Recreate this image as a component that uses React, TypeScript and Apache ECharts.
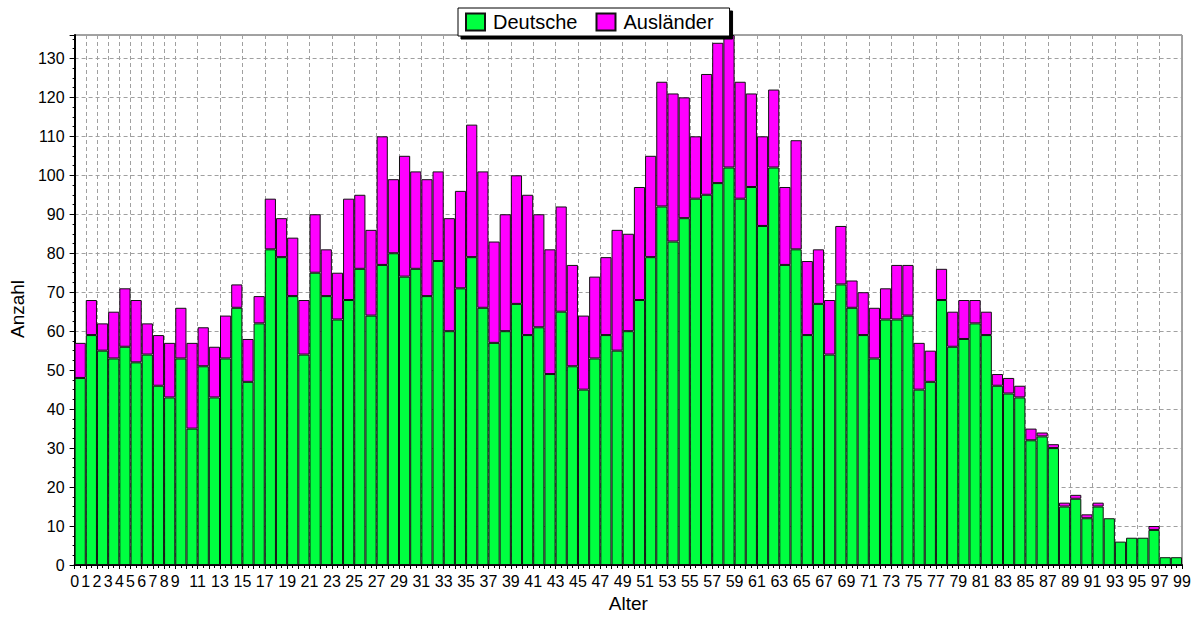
import React, { useEffect, useRef } from "react";
import * as echarts from "echarts";

// Altersjahre (Balken liegen zwischen k und k+1)
const ages = [
  "0","1","2","3","4","5","6","7","8","9","10","11","12","13","14","15","16","17","18","19",
  "20","21","22","23","24","25","26","27","28","29","30","31","32","33","34","35","36","37","38","39",
  "40","41","42","43","44","45","46","47","48","49","50","51","52","53","54","55","56","57","58","59",
  "60","61","62","63","64","65","66","67","68","69","70","71","72","73","74","75","76","77","78","79",
  "80","81","82","83","84","85","86","87","88","89","90","91","92","93","94","95","96","97","98",
];

// Tick labels on the x axis (boundaries 0..99)
const xTickLabels = [
  "0","1","2","3","4","5","6","7","8","9","10","11","12","13","14","15","16","17","18","19",
  "20","21","22","23","24","25","26","27","28","29","30","31","32","33","34","35","36","37","38","39",
  "40","41","42","43","44","45","46","47","48","49","50","51","52","53","54","55","56","57","58","59",
  "60","61","62","63","64","65","66","67","68","69","70","71","72","73","74","75","76","77","78","79",
  "80","81","82","83","84","85","86","87","88","89","90","91","92","93","94","95","96","97","98","99",
];

const deutsche = [
  48, 59, 55, 53, 56, 52, 54, 46, 43, 53,
  35, 51, 43, 53, 66, 47, 62, 81, 79, 69,
  54, 75, 69, 63, 68, 76, 64, 77, 80, 74,
  76, 69, 78, 60, 71, 79, 66, 57, 60, 67,
  59, 61, 49, 65, 51, 45, 53, 59, 55, 60,
  68, 79, 92, 83, 89, 94, 95, 98, 102, 94,
  97, 87, 102, 77, 81, 59, 67, 54, 72, 66,
  59, 53, 63, 63, 64, 45, 47, 68, 56, 58,
  62, 59, 46, 44, 43, 32, 33, 30, 15, 17,
  12, 15, 12, 6, 7, 7, 9, 2, 2,
];

const auslaender = [
  9, 9, 7, 12, 15, 16, 8, 13, 14, 13,
  22, 10, 13, 11, 6, 11, 7, 13, 10, 15,
  14, 15, 12, 12, 26, 19, 22, 33, 19, 31,
  25, 30, 23, 29, 25, 34, 35, 26, 30, 33,
  36, 29, 32, 27, 26, 19, 21, 20, 31, 25,
  29, 26, 32, 38, 31, 16, 31, 36, 34, 30,
  24, 23, 20, 20, 28, 19, 14, 14, 15, 7,
  11, 13, 8, 14, 13, 12, 8, 8, 9, 10,
  6, 6, 3, 4, 3, 3, 1, 1, 1, 1,
  1, 1, 0, 0, 0, 0, 1, 0, 0,
];

const FONT = '"Liberation Sans", Arial, Helvetica, sans-serif';

const showX = (i: number) => i <= 9 || i % 2 === 1;

export default function App() {
  const ref = useRef<HTMLDivElement>(null);

  useEffect(() => {
    if (!ref.current) return;
    const chart = echarts.init(ref.current, undefined, { renderer: "svg" });
    const grid = { color: "#a0a0a0", type: [4, 3] as any, width: 1 };
    chart.setOption({
      animation: false,
      backgroundColor: "#fff",
      textStyle: { fontFamily: FONT },
      grid: {
        left: 73,
        right: 19,
        top: 35,
        bottom: 52,
        show: true,
        borderColor: "#444",
        borderWidth: 1,
        backgroundColor: "#fff",
      },
      legend: {
        data: ["Deutsche", "Ausländer"],
        left: 458,
        top: 8,
        orient: "horizontal",
        itemWidth: 19,
        itemHeight: 17,
        itemGap: 18,
        padding: [4, 16, 4, 7],
        backgroundColor: "#fff",
        borderColor: "#000",
        borderWidth: 1,
        shadowColor: "#000",
        shadowBlur: 0,
        shadowOffsetX: 3,
        shadowOffsetY: 3,
        icon: "rect",
        textStyle: { fontSize: 20, color: "#000", fontFamily: FONT, padding: [0, 0, 0, 3] },
      },
      xAxis: [
        {
          type: "category",
          data: xTickLabels,
          boundaryGap: false,
          position: "bottom",
          name: "Alter",
          nameLocation: "middle",
          nameGap: 29,
          nameTextStyle: { fontSize: 19, color: "#000", fontFamily: FONT },
          axisLine: { show: true, lineStyle: { color: "#000", width: 2 } },
          axisTick: { show: true, interval: 0, length: 4, lineStyle: { color: "#000" } },
          axisLabel: {
            interval: (i: number) => showX(i),
            fontSize: 16,
            color: "#000",
            margin: 8,
            hideOverlap: false,
          },
          splitLine: {
            show: true,
            interval: (i: number) => showX(i),
            lineStyle: grid,
          },
        },
        {
          type: "category",
          data: ages,
          boundaryGap: true,
          position: "bottom",
          axisLine: { show: false },
          axisLabel: { show: false },
          axisTick: { show: true, alignWithLabel: true, interval: 0, length: 3, lineStyle: { color: "#000" } },
          splitLine: { show: false },
        },
      ],
      yAxis: {
        type: "value",
        min: 0,
        max: 136,
        interval: 10,
        name: "Anzahl",
        nameLocation: "middle",
        nameGap: 46,
        nameTextStyle: { fontSize: 19, color: "#000", fontFamily: FONT, padding: [0, 18, 0, 0] },
        axisLine: { show: true, lineStyle: { color: "#000", width: 2 } },
        axisTick: { show: true, length: 5, lineStyle: { color: "#000" } },
        minorTick: { show: true, splitNumber: 4, length: 2, lineStyle: { color: "#000" } },
        axisLabel: { fontSize: 16, color: "#000", margin: 10, showMaxLabel: false },
        splitLine: { show: true, lineStyle: grid },
      },
      series: [
        {
          name: "Deutsche",
          type: "bar",
          stack: "total",
          xAxisIndex: 1,
          data: deutsche,
          barCategoryGap: "0%",
          itemStyle: { color: "#00ff40", borderColor: "#111", borderWidth: 1 },
        },
        {
          name: "Ausländer",
          type: "bar",
          stack: "total",
          xAxisIndex: 1,
          data: auslaender.map((v) => (v === 0 ? null : v)),
          barCategoryGap: "0%",
          itemStyle: { color: "#ff00ff", borderColor: "#111", borderWidth: 1 },
        },
      ],
    });
    return () => chart.dispose();
  }, []);

  return (
    <div
      ref={ref}
      style={{ position: "fixed", left: 0, top: 0, width: 1201, height: 618, background: "#fff" }}
    />
  );
}
